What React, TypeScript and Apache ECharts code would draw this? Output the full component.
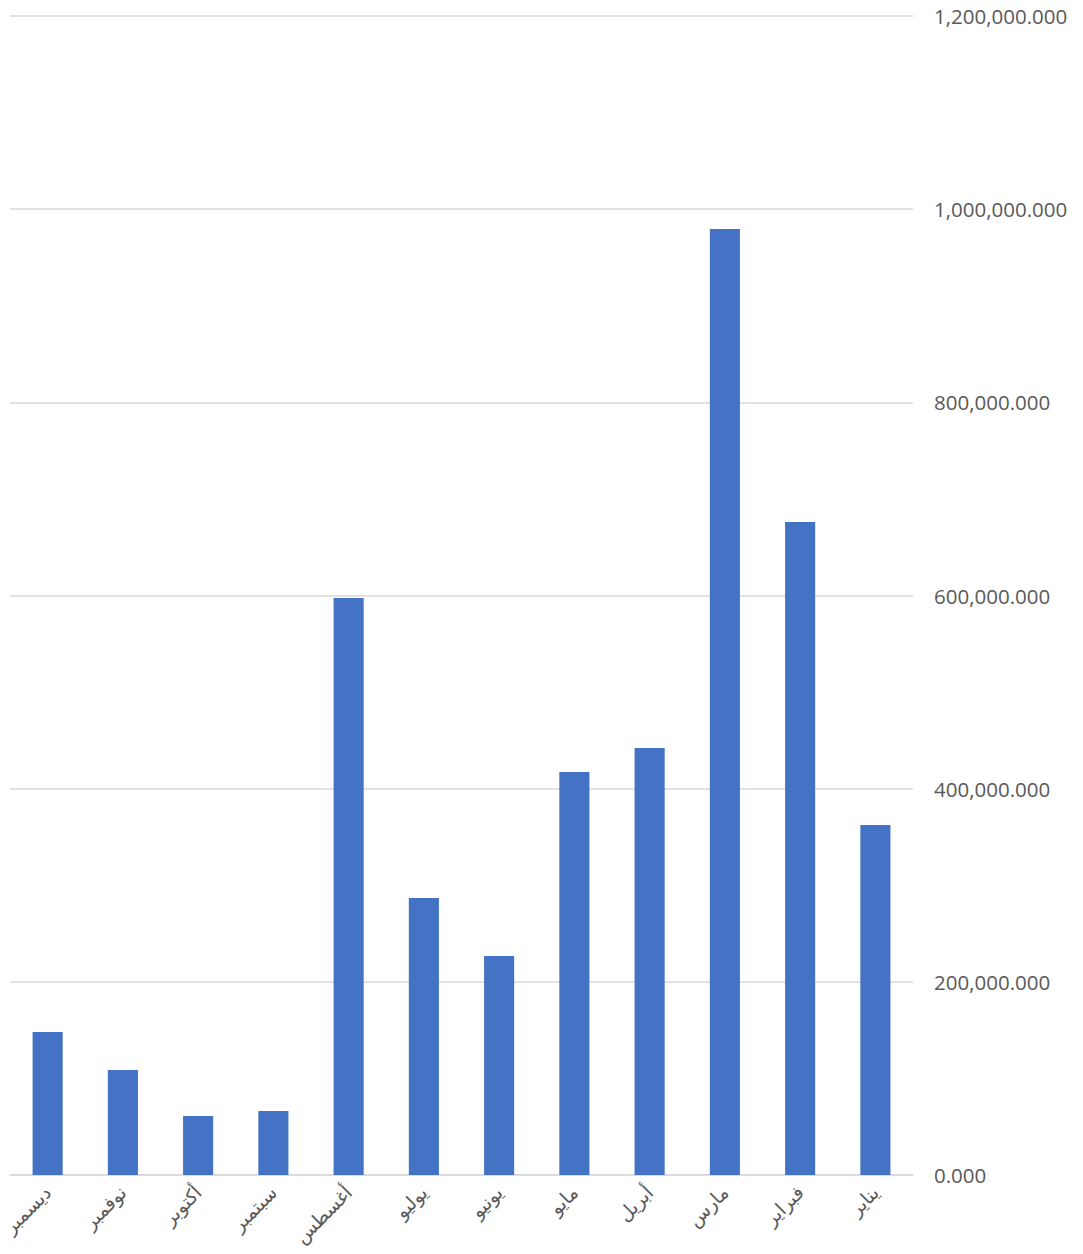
import React, { useEffect, useRef } from "react";
import * as echarts from "echarts";

const months = ["يناير", "فبراير", "مارس", "أبريل", "مايو", "يونيو", "يوليو", "أغسطس", "سبتمبر", "أكتوبر", "نوفمبر", "ديسمبر"];
const values = [362400, 676100, 979500, 442100, 417300, 226800, 286800, 597400, 66300, 61100, 108700, 148000];
const yTicks = { min: 0, max: 1200000, interval: 200000 };

export default function App() {
  const ref = useRef<HTMLDivElement>(null);
  useEffect(() => {
    if (!ref.current) return;
    const chart = echarts.init(ref.current, null, { renderer: "svg" });
    chart.setOption({
      animation: false,
      grid: { left: 10, right: 170, top: 16, bottom: 79, containLabel: false, outerBoundsMode: "none" },
      xAxis: {
        type: "category",
        data: months,
        inverse: true,
        axisTick: { show: false },
        axisLine: { lineStyle: { color: "#d9d9d9", width: 1.5 } },
        axisLabel: {
          rotate: 45,
          interval: 0,
          color: "#595959",
          fontSize: 19,
          fontFamily: "DejaVu Sans, sans-serif",
          margin: 14,
        },
      },
      yAxis: {
        type: "value",
        position: "right",
        min: yTicks.min,
        max: yTicks.max,
        interval: yTicks.interval,
        axisLine: { show: false },
        axisTick: { show: false },
        splitLine: { lineStyle: { color: "#d9d9d9", width: 1.5 } },
        axisLabel: {
          color: "#595959",
          fontSize: 20.5,
          fontFamily: "Open Sans, sans-serif",
          margin: 21,
          formatter: (v: number) =>
            v.toLocaleString("en-US", { minimumFractionDigits: 3, maximumFractionDigits: 3 }),
        },
      },
      series: [
        {
          type: "bar",
          data: values,
          barWidth: "40%",
          itemStyle: { color: "#4472c4" },
        },
      ],
    });
    return () => chart.dispose();
  }, []);
  return <div ref={ref} style={{ width: 1083, height: 1254, margin: -8 }} />;
}
